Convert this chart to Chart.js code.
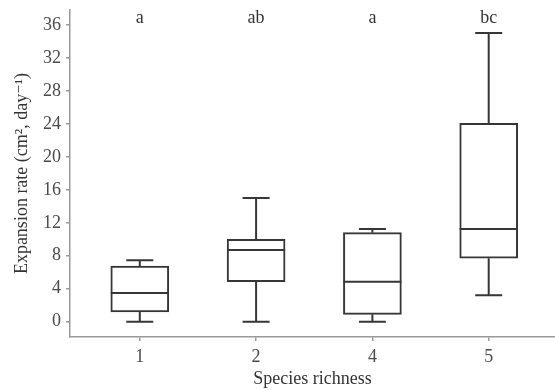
<!DOCTYPE html>
<html>
<head>
<meta charset="utf-8">
<script src="https://cdn.jsdelivr.net/npm/chart.js@4/dist/chart.umd.min.js"></script>
<style>
  html, body { margin: 0; padding: 0; background: #fff; }
  #wrap { width: 555px; height: 390px; }
</style>
</head>
<body>
<div id="wrap"><canvas id="boxChart" width="555" height="390"></canvas></div>
<script>
// Expansion rate by species richness (box plot summary)
const categories = ['1', '2', '4', '5'];
const whiskerLow = [0, 0, 0, 3.2];
const q1 = [1.2, 4.85, 0.9, 7.7];
const medians = [3.5, 8.7, 4.85, 11.25];
const q3 = [6.75, 10.0, 10.8, 24.05];
const whiskerHigh = [7.45, 15.0, 11.25, 35.0];
const sigLetters = ['a', 'ab', 'a', 'bc'];
const yTicks = [0, 4, 8, 12, 16, 20, 24, 28, 32, 36];
const letterLevel = 36.8;

const FONT = "'Liberation Serif', 'DejaVu Serif', serif";
const lineCol = '#363636';

const boxData = categories.map((c, i) => ({ x: i + 1, y: [q1[i], q3[i]] }));

// whiskers, caps, medians and letters drawn with the chart's scales
const boxExtras = {
  id: 'boxExtras',
  afterDatasetsDraw(chart) {
    const ctx = chart.ctx;
    const xs = chart.scales.x, ys = chart.scales.y;
    const halfBox = 29, halfCap = 13.5;
    ctx.save();
    ctx.strokeStyle = lineCol;
    ctx.lineWidth = 2;
    categories.forEach((c, i) => {
      const x = xs.getPixelForValue(i + 1);
      const yMed = ys.getPixelForValue(medians[i]);
      const yLo = ys.getPixelForValue(whiskerLow[i]);
      const yHi = ys.getPixelForValue(whiskerHigh[i]);
      const yQ1 = ys.getPixelForValue(q1[i]);
      const yQ3 = ys.getPixelForValue(q3[i]);
      ctx.beginPath();
      ctx.moveTo(x - halfBox, yMed); ctx.lineTo(x + halfBox, yMed);
      ctx.moveTo(x, yQ3); ctx.lineTo(x, yHi);
      ctx.moveTo(x, yQ1); ctx.lineTo(x, yLo);
      ctx.moveTo(x - halfCap, yHi); ctx.lineTo(x + halfCap, yHi);
      ctx.moveTo(x - halfCap, yLo); ctx.lineTo(x + halfCap, yLo);
      ctx.stroke();
    });
    ctx.fillStyle = '#333';
    ctx.font = '18px ' + FONT;
    ctx.textAlign = 'center';
    ctx.textBaseline = 'middle';
    sigLetters.forEach((t, i) => {
      ctx.fillText(t, xs.getPixelForValue(i + 1), ys.getPixelForValue(letterLevel));
    });
    ctx.restore();
  }
};

const ctx = document.getElementById('boxChart').getContext('2d');
new Chart(ctx, {
  type: 'bar',
  data: {
    datasets: [{
      data: boxData,
      backgroundColor: '#ffffff',
      borderColor: lineCol,
      borderWidth: 2,
      borderSkipped: false,
      barThickness: 58
    }]
  },
  options: {
    responsive: false,
    animation: false,
    devicePixelRatio: 1,
    layout: { padding: { top: 10, right: 0, left: 0, bottom: 0 } },
    plugins: { legend: { display: false }, tooltip: { enabled: false } },
    scales: {
      x: {
        type: 'linear',
        offset: false,
        min: 0.4,
        max: 4.57,
        afterBuildTicks: (s) => { s.ticks = categories.map((c, i) => ({ value: i + 1 })); },
        afterFit: (s) => { s.height = 53; s.paddingLeft = 0; s.paddingRight = 0; },
        ticks: {
          callback: (v) => categories[v - 1],
          color: '#4a4a4a',
          font: { family: FONT, size: 18 },
          padding: 5,
          maxRotation: 0
        },
        grid: { offset: false, drawOnChartArea: false, drawTicks: true, tickLength: 4, color: '#999', lineWidth: 1.5 },
        border: { color: '#999', width: 1.5 },
        title: {
          display: true,
          text: 'Species richness',
          color: '#333',
          font: { family: FONT, size: 18 },
          padding: { top: 0, bottom: 0 }
        }
      },
      y: {
        min: -1.85,
        max: 37.8,
        afterBuildTicks: (s) => { s.ticks = yTicks.map(v => ({ value: v })); },
        afterFit: (s) => { s.width = 70; s.paddingTop = 0; s.paddingBottom = 0; },
        ticks: {
          color: '#4a4a4a',
          font: { family: FONT, size: 18 },
          padding: 5
        },
        grid: { drawOnChartArea: false, drawTicks: true, tickLength: 4, color: '#999', lineWidth: 1.5 },
        border: { color: '#999', width: 1.5 },
        title: {
          display: true,
          text: 'Expansion rate (cm², day⁻¹)',
          color: '#333',
          font: { family: FONT, size: 18 },
          padding: { top: 11, bottom: 0 }
        }
      }
    }
  },
  plugins: [boxExtras]
});
</script>
</body>
</html>
